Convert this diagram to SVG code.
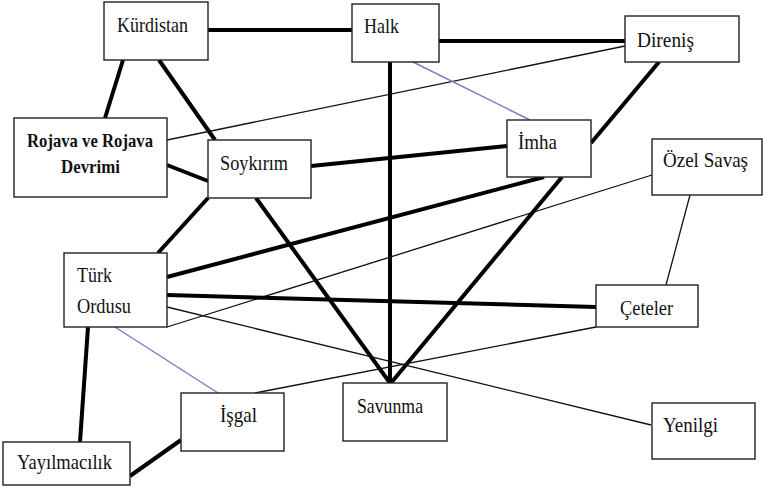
<svg xmlns="http://www.w3.org/2000/svg" width="763" height="491" viewBox="0 0 763 491">
<style>
.box{fill:#fff;stroke:#222;stroke-width:1.4}
.t{font-family:"Liberation Serif","Times New Roman","DejaVu Serif",serif;font-size:18px;fill:#111}
.b{font-weight:bold;font-size:16.5px}
.thick{stroke:#000;stroke-width:4;stroke-linecap:butt}
.thin{stroke:#111;stroke-width:1.3}
.pur{stroke:#8e70c4;stroke-width:1.4}
</style>
<rect width="763" height="491" fill="#fff"/>
<g id="connectors" fill="none">
<line class="thick" x1="208" y1="30" x2="352" y2="30"/>
<line class="thick" x1="439" y1="41" x2="625" y2="41"/>
<line class="thick" x1="123" y1="60" x2="105" y2="118"/>
<line class="thick" x1="159" y1="60" x2="215" y2="140"/>
<line class="thin" x1="167" y1="140" x2="625" y2="46"/>
<line class="thick" x1="167" y1="165" x2="208" y2="181"/>
<line class="thick" x1="390" y1="62" x2="390" y2="383"/>
<line class="pur" x1="413" y1="62" x2="530" y2="120"/>
<line class="thick" x1="311" y1="166" x2="507" y2="146"/>
<line class="thick" x1="659" y1="62" x2="591" y2="143"/>
<line class="thick" x1="544" y1="177" x2="167" y2="277"/>
<line class="thick" x1="562" y1="177" x2="391" y2="383"/>
<line class="thick" x1="256" y1="198" x2="390" y2="383"/>
<line class="thick" x1="208" y1="198" x2="158" y2="253"/>
<line class="thin" x1="652" y1="175" x2="167" y2="327"/>
<line class="thick" x1="167" y1="295" x2="596" y2="307"/>
<line class="thin" x1="167" y1="307" x2="651" y2="425"/>
<line class="thin" x1="690" y1="195" x2="666" y2="285"/>
<line class="thin" x1="596" y1="327" x2="255" y2="393"/>
<line class="pur" x1="115" y1="327" x2="218" y2="393"/>
<line class="thick" x1="88" y1="327" x2="80" y2="442"/>
<line class="thick" x1="130" y1="476" x2="181" y2="440"/>
</g>
<g id="kurdistan"><rect class="box" x="104" y="2" width="104" height="58"/><text class="t" transform="translate(117,32) scale(1,1.15)" textLength="71" lengthAdjust="spacingAndGlyphs">Kürdistan</text></g>
<g id="halk"><rect class="box" x="352" y="4" width="87" height="58"/><text class="t" transform="translate(364,33) scale(1,1.15)" textLength="35" lengthAdjust="spacingAndGlyphs">Halk</text></g>
<g id="direnis"><rect class="box" x="625" y="16" width="114" height="46"/><text class="t" transform="translate(637,47) scale(1,1.15)" textLength="57" lengthAdjust="spacingAndGlyphs">Direniş</text></g>
<g id="rojava"><rect class="box" x="14" y="118" width="153" height="79"/><text class="t b" transform="translate(27,147) scale(1,1.15)" textLength="126" lengthAdjust="spacingAndGlyphs">Rojava ve Rojava</text><text class="t b" transform="translate(61,173) scale(1,1.15)" textLength="59" lengthAdjust="spacingAndGlyphs">Devrimi</text></g>
<g id="soykirim"><rect class="box" x="208" y="140" width="103" height="58"/><text class="t" transform="translate(220,170) scale(1,1.15)" textLength="68" lengthAdjust="spacingAndGlyphs">Soykırım</text></g>
<g id="imha"><rect class="box" x="507" y="120" width="84" height="57"/><text class="t" transform="translate(518,149) scale(1,1.15)" textLength="39" lengthAdjust="spacingAndGlyphs">İmha</text></g>
<g id="ozelsavas"><rect class="box" x="652" y="139" width="110" height="56"/><text class="t" transform="translate(663,167) scale(1,1.15)" textLength="85" lengthAdjust="spacingAndGlyphs">Özel Savaş</text></g>
<g id="turkordusu"><rect class="box" x="64" y="253" width="103" height="74"/><text class="t" transform="translate(77,282) scale(1,1.15)" textLength="35" lengthAdjust="spacingAndGlyphs">Türk</text><text class="t" transform="translate(77,313) scale(1,1.15)" textLength="54" lengthAdjust="spacingAndGlyphs">Ordusu</text></g>
<g id="ceteler"><rect class="box" x="596" y="285" width="102" height="42"/><text class="t" transform="translate(620,315) scale(1,1.15)" textLength="53" lengthAdjust="spacingAndGlyphs">Çeteler</text></g>
<g id="isgal"><rect class="box" x="181" y="393" width="103" height="58"/><text class="t" transform="translate(220,422) scale(1,1.15)" textLength="37" lengthAdjust="spacingAndGlyphs">İşgal</text></g>
<g id="savunma"><rect class="box" x="343" y="383" width="104" height="58"/><text class="t" transform="translate(357,413) scale(1,1.15)" textLength="66" lengthAdjust="spacingAndGlyphs">Savunma</text></g>
<g id="yenilgi"><rect class="box" x="652" y="403" width="103" height="56"/><text class="t" transform="translate(663,432) scale(1,1.15)" textLength="55" lengthAdjust="spacingAndGlyphs">Yenilgi</text></g>
<g id="yayilmacilik"><rect class="box" x="3" y="442" width="127" height="43"/><text class="t" transform="translate(17,469) scale(1,1.15)" textLength="95" lengthAdjust="spacingAndGlyphs">Yayılmacılık</text></g>
</svg>
